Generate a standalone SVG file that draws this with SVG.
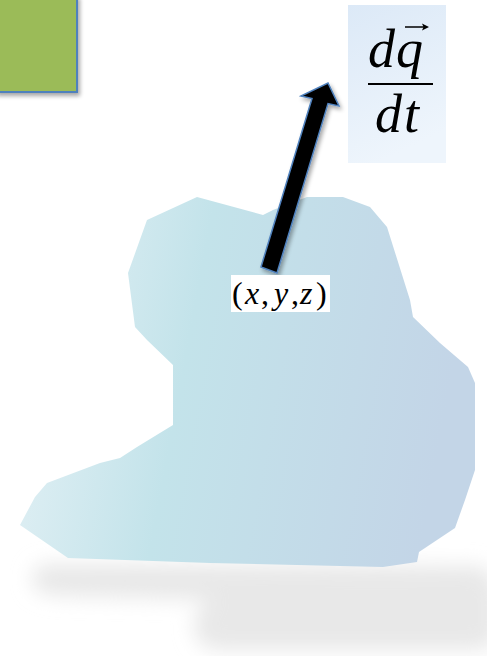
<svg xmlns="http://www.w3.org/2000/svg" width="487" height="656" viewBox="0 0 487 656">
  <style>
    .math { font-family: 'Liberation Serif', 'DejaVu Serif', serif; fill: #000000; }
    .it { font-style: italic; }
  </style>
  <defs>
    <linearGradient id="blobGrad" x1="0" y1="0" x2="1" y2="0.15">
      <stop offset="0" stop-color="#e6f2f6"/>
      <stop offset="0.42" stop-color="#c3e3ea"/>
      <stop offset="1" stop-color="#c3d5e7"/>
    </linearGradient>
    <linearGradient id="boxGrad" x1="0" y1="0" x2="0.3" y2="1">
      <stop offset="0" stop-color="#dce9f7"/>
      <stop offset="1" stop-color="#eef5fc"/>
    </linearGradient>
    <filter id="blur" x="-30%" y="-60%" width="160%" height="220%">
      <feGaussianBlur stdDeviation="10"/>
    </filter>
    <filter id="drop" x="-20%" y="-20%" width="150%" height="150%">
      <feGaussianBlur in="SourceAlpha" stdDeviation="2"/>
      <feOffset dx="2" dy="3" result="o"/>
      <feComponentTransfer><feFuncA type="linear" slope="0.35"/></feComponentTransfer>
      <feMerge><feMergeNode/><feMergeNode in="SourceGraphic"/></feMerge>
    </filter>
  </defs>
  <rect width="487" height="656" fill="#ffffff"/>

  <g id="shadow">
    <path d="M48 564 L475 566 Q497 568 497 598 L497 636 Q494 650 470 650 L220 650 Q194 648 194 626 Q195 606 212 600 L60 596 Q32 594 32 580 Q34 564 48 564 Z" fill="#e8e8e8" filter="url(#blur)"/>
  </g>

  <g id="region">
    <path d="M197 197 L263 215 L273 210 L307 197 L343 197 L370 207 L387 227 L410 300 L413 317 L440 343 L468 367 L475 383 L475 470 L465 500 L455 528 L419 552 L417 562 L383 567 L210 563 L68 558 L20 525 L35 497 L47 483 L100 463 L120 458 L137 447 L173 425 L173 365 L147 340 L135 327 L128 273 L147 220 Z" fill="url(#blobGrad)"/>
  </g>

  <g id="green-box">
    <rect x="-4" y="-4" width="81" height="96" fill="#9bbb59" stroke="#4f81bd" stroke-width="2" filter="url(#drop)"/>
  </g>

  <g id="connectors">
    <polygon points="261,267 312,98.5 301,96 328,83 339,106 328,103.6 277,273" fill="#000" stroke="#4f81bd" stroke-width="1.5" stroke-linejoin="miter" filter="url(#drop)"/>
  </g>

  <g id="formula">
    <rect x="348" y="5" width="98" height="158" fill="url(#boxGrad)"/>
    <text class="math it" font-family="'Liberation Serif', 'DejaVu Serif', serif" font-style="italic" font-size="54" y="67"><tspan x="368">d</tspan><tspan x="396">q</tspan></text>
    <line x1="405" y1="27" x2="424" y2="27" stroke="#000" stroke-width="1.5"/>
    <polygon points="429,27 422,23.5 423.5,27 422,30.5" fill="#000"/>
    <line x1="368" y1="84" x2="433" y2="84" stroke="#000" stroke-width="2"/>
    <text class="math it" font-family="'Liberation Serif', 'DejaVu Serif', serif" font-style="italic" font-size="54" y="132"><tspan x="375">d</tspan><tspan x="404">t</tspan></text>
  </g>

  <g id="label-xyz">
    <rect x="231" y="275" width="99" height="37" fill="#ffffff"/>
    <text class="math" font-family="'Liberation Serif', 'DejaVu Serif', serif" font-size="32" y="304"><tspan x="232">(</tspan><tspan x="245" font-style="italic">x</tspan><tspan x="261">,</tspan><tspan x="274" font-style="italic">y</tspan><tspan x="291">,</tspan><tspan x="300" font-style="italic">z</tspan><tspan x="316">)</tspan></text>
  </g>
</svg>
